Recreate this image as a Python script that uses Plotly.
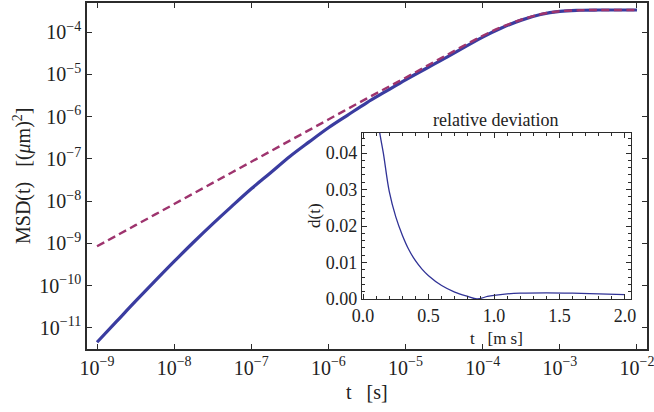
import math
import plotly.graph_objects as go

# ---- data ----
t_full = [1e-9, 1.78e-9, 3.16e-9, 5.62e-9, 1e-8, 1.78e-8, 3.16e-8, 5.62e-8,
          1e-7, 1.78e-7, 3.16e-7, 5.62e-7, 1e-6, 1.78e-6, 3.16e-6, 5.62e-6,
          1e-5, 3.16e-5, 1e-4, 1.78e-4, 3.16e-4, 5.62e-4, 1e-3, 1.78e-3,
          3.16e-3, 1e-2]
msd_full = [4.57e-12, 1.40e-11, 4.27e-11, 1.27e-10, 3.72e-10, 1.06e-9,
            2.88e-9, 7.59e-9, 1.95e-8, 4.68e-8, 1.135e-7, 2.51e-7, 5.43e-7,
            1.084e-6, 2.14e-6, 3.98e-6, 7.41e-6, 2.34e-5, 7.59e-5, 1.26e-4,
            1.91e-4, 2.60e-4, 3.09e-4, 3.27e-4, 3.31e-4, 3.31e-4]

t_approx = [1e-9, 3.16e-9, 1e-8, 3.16e-8, 1e-7, 3.16e-7, 1e-6, 3.16e-6, 1e-5,
            3.16e-5, 1e-4, 1.78e-4, 3.16e-4, 5.62e-4, 1e-3, 1.78e-3, 3.16e-3, 1e-2]
msd_approx = [8.5e-10, 2.69e-9, 8.5e-9, 2.69e-8, 8.5e-8, 2.69e-7, 8.5e-7,
              2.69e-6, 8.3e-6, 2.63e-5, 8.13e-5, 1.32e-4, 1.95e-4, 2.63e-4,
              3.09e-4, 3.27e-4, 3.31e-4, 3.31e-4]

t_ms = [0.08, 0.10, 0.13, 0.155, 0.20, 0.25, 0.30, 0.35, 0.40, 0.45, 0.50,
        0.60, 0.70, 0.80, 0.87, 0.95, 1.0, 1.1, 1.2, 1.4, 1.6, 1.8, 2.0]
dev = [0.065, 0.052, 0.045, 0.040, 0.0295, 0.0225, 0.0175, 0.0135, 0.0105,
       0.0082, 0.0064, 0.0037, 0.0019, 0.0007, 0.0000, 0.0007, 0.0010,
       0.0014, 0.0016, 0.0017, 0.0016, 0.0014, 0.0012]

main_xticks = [1e-9, 1e-8, 1e-7, 1e-6, 1e-5, 1e-4, 1e-3, 1e-2]
main_yticks = [1e-11, 1e-10, 1e-9, 1e-8, 1e-7, 1e-6, 1e-5, 1e-4]
inset_xticks = [0, 0.5, 1.0, 1.5, 2.0]
inset_xlabels = ["0.0", "0.5", "1.0", "1.5", "2.0"]
inset_yticks = [0, 0.01, 0.02, 0.03, 0.04]
inset_ylabels = ["0.00", "0.01", "0.02", "0.03", "0.04"]

W, H = 654, 412
L, R, T, B = 87, 647, 3, 349
FONT = "Liberation Serif"
AX = "#2b2b2b"
TXT = "#222"


def px(x):
    return (x - L) / (R - L)


def py(y):
    return (B - y) / (B - T)


def pow_label(v):
    e = int(round(math.log10(v)))
    return "10<sup><span style='font-size:14px'>\u2212%d</span></sup>" % (-e)


fig = go.Figure()
fig.add_trace(go.Scatter(x=t_full, y=msd_full, mode="lines", line_shape="spline",
                         line=dict(color="rgb(58,60,160)", width=3.2),
                         showlegend=False))
fig.add_trace(go.Scatter(x=t_approx, y=msd_approx, mode="lines", line_shape="spline",
                         line=dict(color="rgb(158,52,110)", width=2.4, dash="8px,4.5px"),
                         showlegend=False))
fig.add_trace(go.Scatter(x=t_ms, y=dev, mode="lines", line_shape="spline",
                         line=dict(color="rgb(48,50,150)", width=1.3),
                         xaxis="x2", yaxis="y2", showlegend=False))

common = dict(showgrid=False, zeroline=False, automargin=False, showline=True,
              linecolor=AX, mirror="allticks", ticks="inside", tickcolor=AX,
              ticklabeloverflow="allow")

fig.update_layout(
    width=W, height=H,
    margin=dict(l=L, r=W - R, t=T, b=H - B, pad=0, autoexpand=False),
    paper_bgcolor="white", plot_bgcolor="white",
    font=dict(family=FONT, size=20, color=TXT),
    xaxis=dict(type="log", range=[-9.13, -1.87],
               tickmode="array", tickvals=main_xticks,
               ticktext=[pow_label(v) for v in main_xticks],
               ticklen=5, tickwidth=1.2, linewidth=1.6,
               tickfont=dict(family=FONT, size=20, color=TXT), **common),
    yaxis=dict(type="log", range=[-11.5, -3.314],
               tickmode="array", tickvals=main_yticks,
               ticktext=[pow_label(v) for v in main_yticks],
               ticklen=5, tickwidth=1.2, linewidth=1.6,
               tickfont=dict(family=FONT, size=20, color=TXT), **common),
    xaxis2=dict(domain=[px(362), px(631)], anchor="y2", range=[-0.008, 2.046],
                tickmode="array", tickvals=inset_xticks, ticktext=inset_xlabels,
                ticklen=5, tickwidth=1, linewidth=1.4,
                minor=dict(dtick=0.1, ticks="inside", ticklen=2.5, tickcolor=AX, tickwidth=1),
                tickfont=dict(family=FONT, size=18, color=TXT), **common),
    yaxis2=dict(domain=[py(299), py(133)], anchor="x2", range=[0, 0.0455],
                tickmode="array", tickvals=inset_yticks, ticktext=inset_ylabels,
                ticklen=5, tickwidth=1, linewidth=1.4,
                minor=dict(dtick=0.002, ticks="inside", ticklen=2.5, tickcolor=AX, tickwidth=1),
                tickfont=dict(family=FONT, size=18, color=TXT), **common),
)

ann = [
    dict(text="t &nbsp; [s]", x=px(367), y=py(392), size=20, angle=0),
    dict(text="MSD(t) &nbsp; [(<i>\u03bc</i>m)<sup>2</sup>]", x=px(22), y=py(176), size=20, angle=-90),
    dict(text="relative deviation", x=px(495), y=py(120), size=18, angle=0),
    dict(text="t &nbsp; [m s]", x=px(496), y=py(338), size=17, angle=0),
    dict(text="d(t)", x=px(315), y=py(216), size=17, angle=-90),
]
for a in ann:
    fig.add_annotation(text=a["text"], x=a["x"], y=a["y"], xref="paper", yref="paper",
                       xanchor="center", yanchor="middle", showarrow=False,
                       textangle=a["angle"],
                       font=dict(family=FONT, size=a["size"], color=TXT))

fig.write_html("out.html", config={"displayModeBar": False},
               post_script="document.body.style.margin='0';document.body.style.overflow='hidden';")
